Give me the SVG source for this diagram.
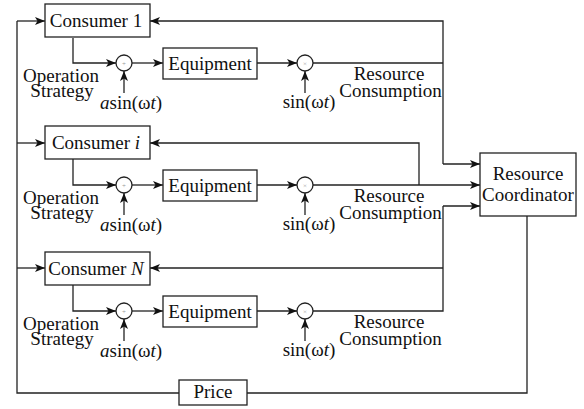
<svg xmlns="http://www.w3.org/2000/svg" width="584" height="409" viewBox="0 0 584 409" font-family="'Liberation Serif', 'DejaVu Serif', serif">
<defs>
<marker id="ah" viewBox="0 0 10 8" refX="10" refY="4" markerWidth="10" markerHeight="8" markerUnits="userSpaceOnUse" orient="auto">
<path d="M0,0 L10,4 L0,8 L2.5,4 z" fill="#111"/>
</marker>
</defs>
<style>
.b{fill:#fff;stroke:#222;stroke-width:1.3}
.l{fill:none;stroke:#222;stroke-width:1.3}
.a{fill:none;stroke:#222;stroke-width:1.3;marker-end:url(#ah)}
.c{fill:#fff;stroke:#222;stroke-width:1.3}
text{font-family:'Liberation Serif','DejaVu Serif',serif;font-size:19px;fill:#111}
.m{text-anchor:middle}
.s{font-size:7px;fill:#999;text-anchor:middle}
</style>
<rect width="584" height="409" fill="#fff"/>
<g id="connectors">
<polyline class="l" points="179,393 17,393 17,21"/>
<line class="a" x1="17" y1="21" x2="45" y2="21"/>
<line class="a" x1="17" y1="143" x2="45" y2="143"/>
<line class="a" x1="17" y1="268" x2="45" y2="268"/>
<polyline class="l" points="527,216 527,393 247,393"/>
<polyline class="a" points="73,38 73,63 116,63"/>
<line class="a" x1="132" y1="63" x2="163" y2="63"/>
<line class="a" x1="257" y1="63" x2="297" y2="63"/>
<line class="a" x1="124" y1="93" x2="124" y2="71"/>
<line class="a" x1="305" y1="93" x2="305" y2="71"/>
<polyline class="l" points="313,63 443,63"/>
<polyline class="a" points="443,164 443,21 150,21"/>
<line class="a" x1="443" y1="164" x2="480" y2="164"/>
<polyline class="a" points="73,159 73,185 116,185"/>
<line class="a" x1="132" y1="185" x2="163" y2="185"/>
<line class="a" x1="257" y1="185" x2="297" y2="185"/>
<line class="a" x1="124" y1="215" x2="124" y2="193"/>
<line class="a" x1="305" y1="215" x2="305" y2="193"/>
<line class="a" x1="313" y1="185" x2="480" y2="185"/>
<polyline class="a" points="419,185 419,143 150,143"/>
<polyline class="a" points="73,285 73,311 116,311"/>
<line class="a" x1="132" y1="311" x2="163" y2="311"/>
<line class="a" x1="257" y1="311" x2="297" y2="311"/>
<line class="a" x1="124" y1="341" x2="124" y2="319"/>
<line class="a" x1="305" y1="341" x2="305" y2="319"/>
<polyline class="l" points="313,311 443,311 443,206"/>
<line class="a" x1="443" y1="206" x2="480" y2="206"/>
<line class="a" x1="443" y1="268" x2="150" y2="268"/>
</g>
<g id="consumer1">
<rect class="b" x="45" y="4" width="105" height="33"/>
<text class="m" x="96" y="27">Consumer 1</text>
</g>
<g id="consumeri">
<rect class="b" x="45" y="126" width="105" height="33"/>
<text class="m" x="96" y="149">Consumer <tspan font-style="italic">i</tspan></text>
</g>
<g id="consumerN">
<rect class="b" x="45" y="252" width="105" height="33"/>
<text class="m" x="96" y="275">Consumer <tspan font-style="italic">N</tspan></text>
</g>
<g id="row1">
<circle class="c" cx="124" cy="63" r="8"/><text class="s" x="124" y="65.5">+</text>
<rect class="b" x="163" y="48" width="94" height="31"/>
<text class="m" x="210" y="70">Equipment</text>
<circle class="c" cx="305" cy="63" r="8"/><text class="s" x="305" y="65.5">×</text>
<text class="m" x="61" y="82">Operation</text>
<text class="m" x="62" y="97">Strategy</text>
<text x="100" y="109"><tspan font-style="italic">a</tspan>sin(ω<tspan font-style="italic">t</tspan>)</text>
<text class="m" x="309" y="108">sin(ω<tspan font-style="italic">t</tspan>)</text>
<text class="m" x="389" y="80">Resource</text>
<text class="m" x="390.5" y="97">Consumption</text>
</g>
<g id="rowi">
<circle class="c" cx="124" cy="185" r="8"/><text class="s" x="124" y="187.5">+</text>
<rect class="b" x="163" y="170" width="94" height="31"/>
<text class="m" x="210" y="192">Equipment</text>
<circle class="c" cx="305" cy="185" r="8"/><text class="s" x="305" y="187.5">×</text>
<text class="m" x="61" y="204">Operation</text>
<text class="m" x="62" y="219">Strategy</text>
<text x="100" y="231"><tspan font-style="italic">a</tspan>sin(ω<tspan font-style="italic">t</tspan>)</text>
<text class="m" x="309" y="230">sin(ω<tspan font-style="italic">t</tspan>)</text>
<text class="m" x="389" y="202">Resource</text>
<text class="m" x="390.5" y="219">Consumption</text>
</g>
<g id="rowN">
<circle class="c" cx="124" cy="311" r="8"/><text class="s" x="124" y="313.5">+</text>
<rect class="b" x="163" y="296" width="94" height="31"/>
<text class="m" x="210" y="318">Equipment</text>
<circle class="c" cx="305" cy="311" r="8"/><text class="s" x="305" y="313.5">×</text>
<text class="m" x="61" y="330">Operation</text>
<text class="m" x="62" y="345">Strategy</text>
<text x="100" y="357"><tspan font-style="italic">a</tspan>sin(ω<tspan font-style="italic">t</tspan>)</text>
<text class="m" x="309" y="356">sin(ω<tspan font-style="italic">t</tspan>)</text>
<text class="m" x="389" y="328">Resource</text>
<text class="m" x="390.5" y="345">Consumption</text>
</g>
<g id="coordinator">
<rect class="b" x="480" y="153" width="96" height="63"/>
<text class="m" x="528" y="180">Resource</text>
<text class="m" x="528" y="201">Coordinator</text>
</g>
<g id="price">
<rect class="b" x="179" y="380" width="68" height="25"/>
<text class="m" x="213" y="398">Price</text>
</g>
</svg>
